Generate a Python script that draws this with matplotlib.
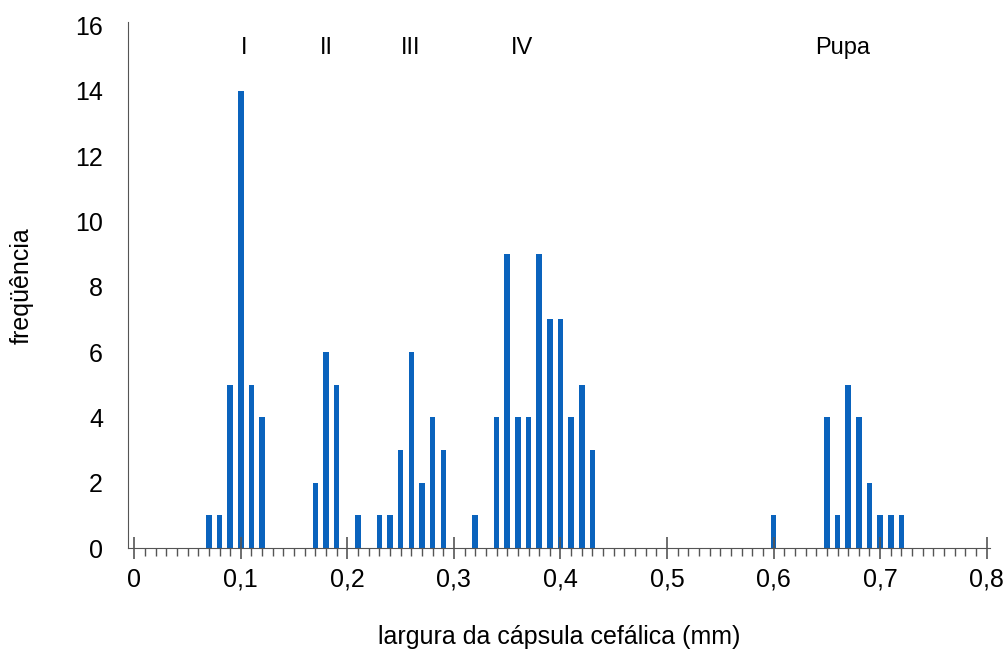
import numpy as np
from matplotlib import pyplot as plt
from matplotlib.ticker import MultipleLocator, FuncFormatter

plt.rcParams['font.family'] = ['Liberation Sans', 'DejaVu Sans']

# largura da capsula cefalica (mm) e frequencia
largura = [0.07, 0.08, 0.09, 0.10, 0.11, 0.12,
           0.17, 0.18, 0.19, 0.21,
           0.23, 0.24, 0.25, 0.26, 0.27, 0.28, 0.29,
           0.32,
           0.34, 0.35, 0.36, 0.37, 0.38, 0.39, 0.40, 0.41, 0.42, 0.43,
           0.60,
           0.65, 0.66, 0.67, 0.68, 0.69, 0.70, 0.71, 0.72]
freq = [1, 1, 5, 14, 5, 4,
        2, 6, 5, 1,
        1, 1, 3, 6, 2, 4, 3,
        1,
        4, 9, 4, 4, 9, 7, 7, 4, 5, 3,
        1,
        4, 1, 5, 4, 2, 1, 1, 1]

instares = ['I', 'II', 'III', 'IV', 'Pupa']
instar_x = [0.103, 0.180, 0.259, 0.364, 0.665]

fig = plt.figure(figsize=(10.07, 6.51), dpi=100)
ax = fig.add_axes([0.127, 0.158, 0.856, 0.808])

ax.bar(largura, freq, width=0.0052, color='#0a63bd')

for lab, xx in zip(instares, instar_x):
    ax.text(xx, 15.3, lab, ha='center', va='center', fontsize=17)

ax.set_xlim(-0.006, 0.803)
ax.set_ylim(0, 16.1)
ax.spines['top'].set_visible(False)
ax.spines['right'].set_visible(False)
ax.spines['left'].set_color('#555555')
ax.spines['bottom'].set_color('#555555')

ax.xaxis.set_major_locator(MultipleLocator(0.1))
ax.xaxis.set_minor_locator(MultipleLocator(0.01))
ax.xaxis.set_major_formatter(FuncFormatter(lambda v, p: ('%g' % round(v, 2)).replace('.', ',')))
ax.tick_params(axis='x', which='major', direction='inout', length=16, width=1.2,
               color='#555555', labelsize=18, pad=6)
ax.tick_params(axis='x', which='minor', direction='out', length=6, width=1,
               color='#555555')
ax.set_yticks(np.arange(0, 17, 2))
ax.tick_params(axis='y', length=0, labelsize=18, pad=18)

ax.set_xlabel('largura da cápsula cefálica (mm)', fontsize=18, labelpad=24)
ax.set_ylabel('freqüência', fontsize=18, labelpad=30)

fig.savefig('out.png', dpi=100)
